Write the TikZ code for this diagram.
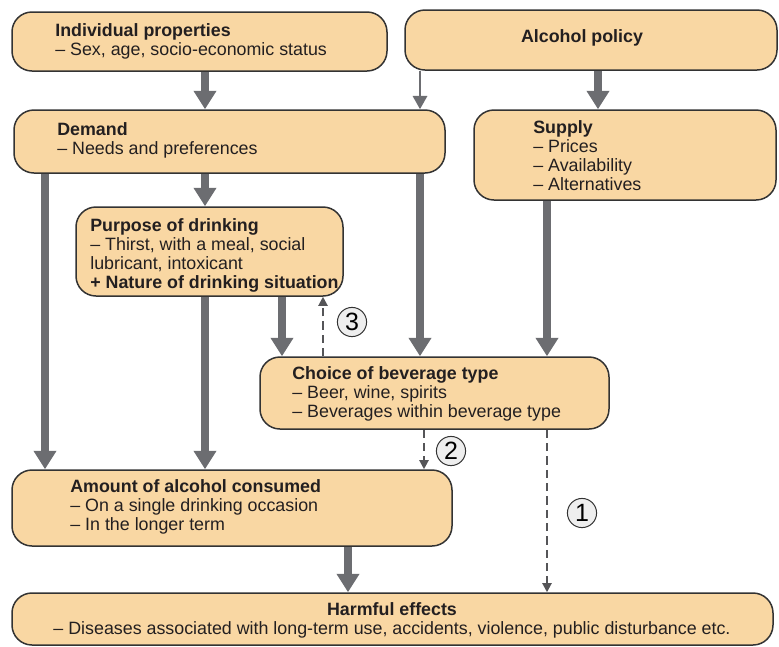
\documentclass[tikz,border=0pt]{standalone}
\usepackage{fontspec}
\setmainfont{Liberation Sans}
\usetikzlibrary{arrows.meta, positioning}

\definecolor{boxfill}{RGB}{249,215,163}
\definecolor{arrowgray}{RGB}{108,109,113}
\definecolor{dashgray}{RGB}{85,85,88}
\definecolor{circlefill}{RGB}{238,238,238}
\definecolor{textdark}{RGB}{35,31,32}

\begin{document}
\begin{tikzpicture}[x=0.6pt, y=-0.6pt]
    % --- Style Definitions ---
    \tikzset{
        flow box/.style={
            draw=black!80,
            line width=0.9pt,
            fill=boxfill,
            rounded corners=12pt,
            inner sep=0pt
        },
        box text/.style={
            anchor=north west,
            align=left,
            inner sep=0pt,
            text=textdark,
            font=\fontsize{10.7}{11.4}\selectfont
        },
        main arrow/.style={
            -{Triangle[width=13pt, length=11pt]},
            line width=4.8pt,
            draw=arrowgray
        },
        thin arrow/.style={
            -{Triangle[width=8.5pt, length=8pt]},
            line width=1.6pt,
            draw=arrowgray
        },
        effect arrow/.style={
            -{Triangle[width=5.5pt, length=5.5pt]},
            line width=1.2pt,
            dash pattern=on 5pt off 3pt,
            draw=dashgray
        },
        path label/.style={
            circle,
            draw=black!80,
            fill=circlefill,
            line width=0.6pt,
            minimum size=17.5pt,
            inner sep=0pt,
            font=\fontsize{15}{15}\selectfont
        }
    }

    % one unit = one pixel of the layout
    \def\px{0.6pt}

    \useasboundingbox (0,0) rectangle (779,646);

    % --- 1. Boxes ---
    \node[flow box, minimum width=375*\px, minimum height=59*\px] (indiv) at (199.5,41.5) {};
    \node[flow box, minimum width=372*\px, minimum height=60*\px] (policy) at (591,40) {};
    \node[flow box, minimum width=431*\px, minimum height=63*\px] (demand) at (229.5,141.5) {};
    \node[flow box, minimum width=302*\px, minimum height=90*\px] (supply) at (625,155) {};
    \node[flow box, minimum width=267*\px, minimum height=89*\px] (purpose) at (209.5,251.5) {};
    \node[flow box, minimum width=349*\px, minimum height=72*\px] (choice) at (434.5,393) {};
    \node[flow box, minimum width=440*\px, minimum height=76*\px] (amount) at (232,508) {};
    \node[flow box, minimum width=761*\px, minimum height=52*\px] (harm) at (392.5,619) {};

    % --- 2. Box texts ---
    \node[box text] (indivtxt) at (55,23) {\textbf{Individual properties}\\
        -- Sex, age, socio-economic status};
    \node[box text, anchor=center] (policytxt) at (582,38) {\textbf{Alcohol policy}};
    \node[box text] (demandtxt) at (57,122) {\textbf{Demand}\\
        -- Needs and preferences};
    \node[box text] (supplytxt) at (533,120) {\textbf{Supply}\\
        -- Prices\\ -- Availability\\ -- Alternatives};
    \node[box text] (purposetxt) at (90,218) {\textbf{Purpose of drinking}\\
        -- Thirst, with a meal, social\\ lubricant, intoxicant\\
        \textbf{+ Nature of drinking situation}};
    \node[box text] (choicetxt) at (292,366) {\textbf{Choice of beverage type}\\
        -- Beer, wine, spirits\\ -- Beverages within beverage type};
    \node[box text] (amounttxt) at (70,479) {\textbf{Amount of alcohol consumed}\\
        -- On a single drinking occasion\\ -- In the longer term};
    \node[box text, anchor=north, align=center] (harmtxt) at (392,602) {\textbf{Harmful effects}\\
        -- Diseases associated with long-term use, accidents, violence, public disturbance etc.};

    % --- 3. Arrow columns ---
    \coordinate (c1) at (45,0);
    \coordinate (c2) at (205,0);
    \coordinate (c3) at (282,0);
    \coordinate (c4) at (323,0);
    \coordinate (c5) at (348,0);
    \coordinate (c6) at (420,0);
    \coordinate (c7) at (424,0);
    \coordinate (c8) at (547,0);
    \coordinate (c9) at (598,0);

    % --- 4. Solid arrows ---
    \draw[main arrow] (indiv.south -| c2) -- (demand.north -| c2);
    \draw[thin arrow] (policy.south -| c6) -- (demand.north -| c6);
    \draw[main arrow] (policy.south -| c9) -- (supply.north -| c9);
    \draw[main arrow] (demand.south -| c2) -- (purpose.north -| c2);
    \draw[main arrow] (demand.south -| c1) -- (amount.north -| c1);
    \draw[main arrow] (demand.south -| c6) -- (choice.north -| c6);
    \draw[main arrow] (supply.south -| c8) -- (choice.north -| c8);
    \draw[main arrow] (purpose.south -| c2) -- (amount.north -| c2);
    \draw[main arrow] (purpose.south -| c3) -- (choice.north -| c3);
    \draw[main arrow] (amount.south -| c5) -- (harm.north -| c5);

    % --- 5. Dashed arrows and their numbers ---
    \draw[effect arrow] (choice.north -| c4) -- (purpose.south -| c4);
    \draw[effect arrow] (choice.south -| c7) -- (amount.north -| c7);
    \draw[effect arrow] (choice.south -| c8) -- (harm.north -| c8);

    \node[path label] (three) at (352,322) {3};
    \node[path label] (two) at (451,451) {2};
    \node[path label] (one) at (582,513) {1};

\end{tikzpicture}
\end{document}
